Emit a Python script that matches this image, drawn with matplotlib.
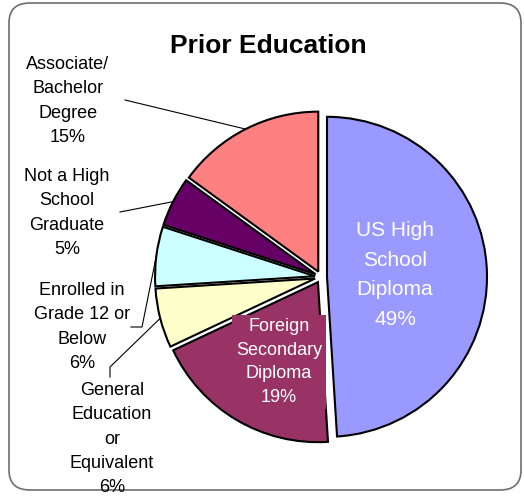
"""Prior education pie chart (Excel style, exploded slices)."""

import matplotlib

matplotlib.use("Agg")
import matplotlib.pyplot as plt
import numpy as np
from matplotlib.patches import FancyBboxPatch

W, H = 524, 496

categories = [
    "US High\nSchool\nDiploma",
    "Foreign\nSecondary\nDiploma",
    "General\nEducation\nor\nEquivalent",
    "Enrolled in\nGrade 12 or\nBelow",
    "Not a High\nSchool\nGraduate",
    "Associate/\nBachelor\nDegree",
]
shares = [49, 19, 6, 6, 5, 15]
colors = ["#9999FF", "#993366", "#FFFFCC", "#CCFFFF", "#660066", "#FF8080"]


def px(x, y):
    # pixel position (origin top-left) -> data coords
    return x, H - y


plt.rcParams["font.family"] = ["Liberation Sans", "DejaVu Sans"]

fig = plt.figure(figsize=(W / 100, H / 100), dpi=100)
frame = FancyBboxPatch((9 / W, 6 / H), 512 / W, 487 / H,
                       boxstyle="round,pad=0,rounding_size=0.04",
                       transform=fig.transFigure, facecolor="white",
                       edgecolor="#6e6e6e", linewidth=1.2, zorder=-5)
fig.patches.append(frame)

ax = fig.add_axes([0, 0, 1, 1])
ax.patch.set_alpha(0)
wedges, _ = ax.pie(shares, colors=colors, startangle=90, counterclock=False,
                   explode=[6] * len(shares), radius=160, center=px(321, 277),
                   wedgeprops=dict(edgecolor="black", linewidth=1.5))
ax.set_xlim(0, W)
ax.set_ylim(0, H)
ax.set_aspect("equal")
ax.axis("off")


def edge_point(w, extra=0):
    mid = np.deg2rad((w.theta1 + w.theta2) / 2)
    cx, cy = w.center
    return cx + (w.r + extra) * np.cos(mid), cy + (w.r + extra) * np.sin(mid)


def label(i):
    return f"{categories[i]}\n{shares[i]}%"


# labels inside the big slices
ax.text(*px(395, 275), label(0), ha="center", va="center", color="white",
        fontsize=15, linespacing=1.72)
ax.text(*px(279, 362), label(1), ha="center", va="center", color="white",
        fontsize=13, linespacing=1.5,
        bbox=dict(boxstyle="square,pad=0.2", facecolor=colors[1], edgecolor="none"))

# outside labels with leader lines
text_pos = {5: (68, 101), 4: (67, 213), 3: (82, 327), 2: (112, 439)}
leader_start = {5: [(125, 100)], 4: [(120, 212)], 3: [(131, 327), (142, 327)],
                2: [(110, 377), (110, 367)]}
for i, (tx, ty) in text_pos.items():
    ax.text(*px(tx, ty), label(i), ha="center", va="center", fontsize=13,
            linespacing=1.55, color="black")
    pts = [px(x, y) for x, y in leader_start[i]] + [edge_point(wedges[i])]
    xs, ys = zip(*pts)
    ax.plot(xs, ys, color="black", linewidth=0.8)

fig.text(268 / W, 1 - 46 / H, "Prior Education", ha="center", va="center",
         fontsize=19, fontweight="bold")

fig.savefig("out.png", dpi=100)
